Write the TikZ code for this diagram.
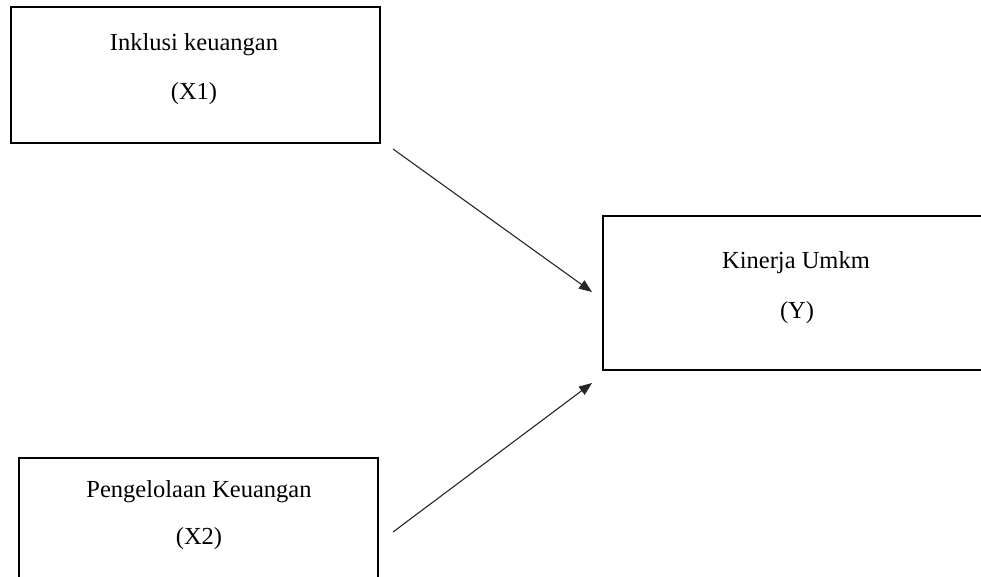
\documentclass[tikz,border=0pt]{standalone}
\usepackage{fontspec}
\setmainfont{Liberation Serif}
\usetikzlibrary{arrows.meta}
\begin{document}
\begin{tikzpicture}[x=1pt,y=-1pt,
        varbox/.style={draw,line width=2pt,rectangle,inner sep=0pt},
        varlabel/.style={anchor=base,inner sep=0pt,font=\fontsize{24.5}{29}\selectfont},
        path/.style={line width=1.1pt,color=black!85,-{Triangle[length=13pt,width=10pt]}}]
            \clip (0,0) rectangle (981,577);
            \node[varbox,minimum width=369,minimum height=136] (x1) at (195.5,75) {};
            \node[varbox,minimum width=388,minimum height=154] (y) at (797,293) {};
            \node[varbox,minimum width=359,minimum height=139] (x2) at (198.5,527.5) {};
            \node[varlabel] (x1name) at (194,51) {Inklusi keuangan};
            \node[varlabel] (x1code) at (194,100) {(X1)};
            \node[varlabel] (yname) at (796,268) {Kinerja Umkm};
            \node[varlabel] (ycode) at (797,318) {(Y)};
            \node[varlabel] (x2name) at (199,497) {Pengelolaan Keuangan};
            \node[varlabel] (x2code) at (199,544) {(X2)};
            \coordinate (a1s) at (393,149);
            \coordinate (a1e) at (592,292);
            \coordinate (a2s) at (393,532);
            \coordinate (a2e) at (592,383);
            \draw[path] (a1s) -- (a1e);
            \draw[path] (a2s) -- (a2e);
        \end{tikzpicture}
\end{document}
